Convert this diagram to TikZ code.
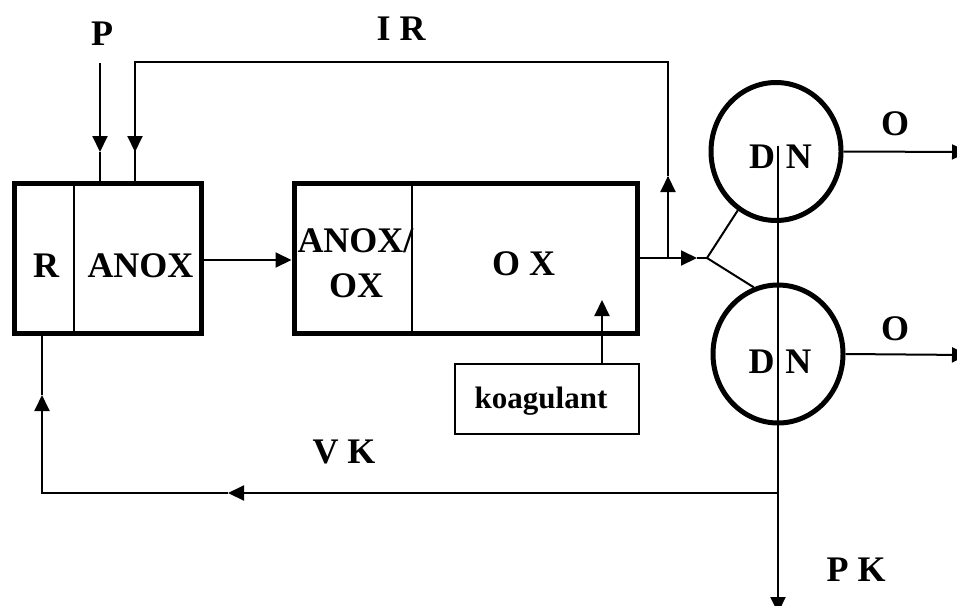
\documentclass[tikz,border=0pt]{standalone}
\usepackage{fontspec}
\setmainfont{Liberation Serif}
\usetikzlibrary{arrows.meta,calc,positioning,shapes.geometric}

\tikzset{
  blok/.style={draw, rectangle, line width=5pt, inner sep=0pt},
  sep/.style={draw, ellipse, line width=5pt, inner sep=0pt,
    minimum width=130pt, minimum height=138pt},
  kbox/.style={draw, rectangle, line width=2pt, inner sep=0pt,
    minimum width=184pt, minimum height=70pt},
  tok/.style={line width=2pt},
  arr/.style={tok, -{Triangle[length=16pt,width=15pt]}},
  lab/.style={font=\fontsize{36}{45}\selectfont\bfseries, anchor=base, inner sep=0pt},
}

\begin{document}
\begin{tikzpicture}[x=1pt,y=-1pt]
        \useasboundingbox (0,0) rectangle (957,605);
        %Boxes
        \node[blok, minimum width=187pt, minimum height=150pt] (rk) at (107.5,258) {};
        \node[blok, minimum width=343pt, minimum height=150pt] (ox) at (465.5,258) {};
        \node[kbox] (koag) at (547,399) {};
        \draw[tok] ($(rk.north west)+(62,0)$) -- ($(rk.south west)+(62,0)$);
        \draw[tok] ($(ox.north west)+(120,0)$) -- ($(ox.south west)+(120,0)$);
        %Separators
        \node[sep] (dn1) at (776,151.5) {};
        \node[sep] (dn2) at (778,354) {};
        %Labels
        \node[lab] (p) at (102,45) {P};
        \node[lab] (ir) at (401,40) {I R};
        \node[lab] (r) at (46,277) {R};
        \node[lab] (anox) at (140.5,277) {ANOX};
        \node[lab] (anoxa) at (355.5,252) {ANOX/};
        \node[lab] (anoxb) at (356,297) {OX};
        \node[lab] (oxt) at (523.5,275) {O X};
        \node[lab] (dna) at (780.5,168) {D\hspace{0.3em}N};
        \node[lab] (dnb) at (780,373) {D\hspace{0.3em}N};
        \node[lab] (oa) at (895,135) {O};
        \node[lab] (ob) at (895,340) {O};
        \node[lab, font=\fontsize{31}{36}\selectfont\bfseries] (kt) at (541,408) {koagulant};
        \node[lab] (vk) at (344,463) {V K};
        \node[lab] (pk) at (856,581) {P K};
        %Points
        \coordinate (pin) at (100,63);
        \coordinate (irtop) at (668,62);
        \coordinate (irleft) at (135,62);
        \coordinate (spl) at (707,258);
        \coordinate (vkr) at (778,493);
        \coordinate (vkl) at (42,493);
        \coordinate (pkout) at (778,613);
        %Flows
        \draw[arr] (pin) -- (pin |- 0,152);
        \draw[tok] (pin |- 0,152) -- (pin |- rk.north);
        \draw[tok] (spl -| irtop) -- (668,177);
        \draw[arr] (668,190) -- (668,176);
        \draw[tok] (668,176) -- (irtop) -- (irleft) -- (135,152);
        \draw[arr] (135,140) -- (135,152);
        \draw[tok] (135,152) -- (irleft |- rk.north);
        \draw[arr] (rk.east |- 0,260) -- (ox.west |- 0,260);
        \draw[arr] ($(ox.east |- spl)+(-5,0)$) -- (697,258);
        \draw[tok] (697,258) -- (spl);
        \draw[tok] (spl) -- (dn1.237);
        \draw[tok] (spl) -- (dn2.110);
        \draw[arr] (koag.north -| 602,0) -- (602,300);
        \draw[arr] (dn1.east) -- (968,152);
        \draw[arr] (dn2.east) -- (968,355);
        \draw[arr] (778,146) -- (pkout);
        \draw[tok] (vkr) -- (240,493);
        \draw[arr] (240,493) -- (228,493);
        \draw[tok] (228,493) -- (vkl) -- (42,406);
        \draw[arr] (42,406) -- (42,395);
        \draw[tok] (42,395) -- (vkl |- rk.south);
      \end{tikzpicture}
\end{document}
